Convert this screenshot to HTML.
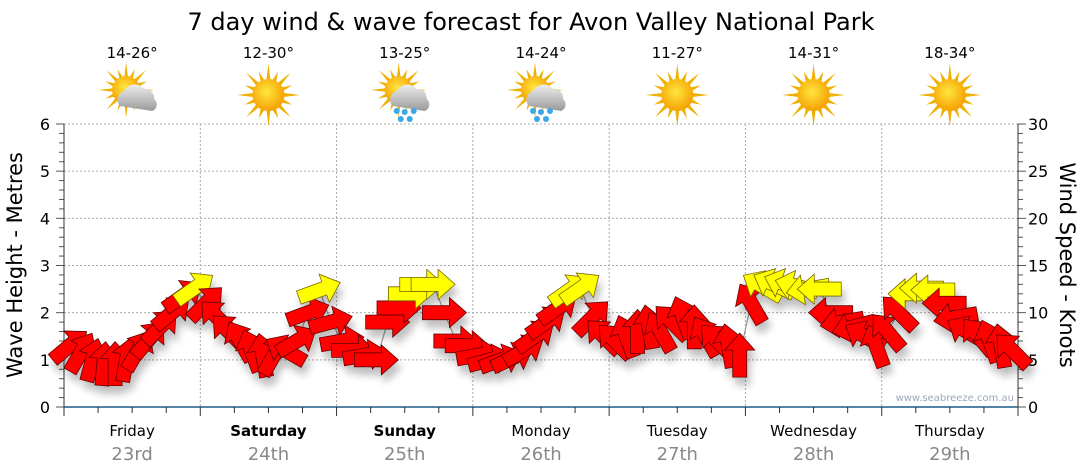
<!DOCTYPE html>
<html><head><meta charset="utf-8">
<style>
body{margin:0;background:#fff;width:1080px;height:475px;overflow:hidden;font-family:"DejaVu Sans","Liberation Sans",sans-serif}
svg{display:block}
</style></head>
<body>
<svg id="chart" width="1080" height="475">
<defs>
<filter id="sh" x="-50%" y="-50%" width="200%" height="200%"><feGaussianBlur in="SourceAlpha" stdDeviation="4"/><feOffset dx="3" dy="8"/><feComponentTransfer><feFuncA type="linear" slope="0.25"/></feComponentTransfer><feMerge><feMergeNode/><feMergeNode in="SourceGraphic"/></feMerge></filter>
<radialGradient id="sun" cx="45%" cy="40%" r="60%"><stop offset="0" stop-color="#ffe640"/><stop offset="1" stop-color="#f5a000"/></radialGradient>
<linearGradient id="cloud" x1="0" y1="0" x2="0" y2="1"><stop offset="0" stop-color="#eee"/><stop offset="1" stop-color="#999"/></linearGradient>
</defs>
<text x="531" y="30" text-anchor="middle" font-size="24" fill="#000">7 day wind &amp; wave forecast for Avon Valley National Park</text>
<g id="grid"></g>
<g id="axes"></g>
<g id="days"></g>
<polyline id="wline" fill="none" stroke="#999" stroke-width="1.2"/>
<g id="arrows" filter="url(#sh)"></g>
<text x="1014" y="401" text-anchor="end" font-size="10" fill="#9aa8bb">www.seabreeze.com.au</text>
<text transform="translate(22,265) rotate(-90)" text-anchor="middle" font-size="21" fill="#000">Wave Height - Metres</text>
<text transform="translate(1060,265) rotate(90)" text-anchor="middle" font-size="21" fill="#000">Wind Speed - Knots</text>
</svg>
<script>
const dayNames=["Friday","Saturday","Sunday","Monday","Tuesday","Wednesday","Thursday"];
const dayDates=["23rd","24th","25th","26th","27th","28th","29th"];
const boldDays=[false,true,true,false,false,false,false];
const temps=["14-26°","12-30°","13-25°","14-24°","11-27°","14-31°","18-34°"];
const icons=["cloudy","sun","rain","rain","sun","sun","sun"];
const waveTicks=[0,1,2,3,4,5,6];
const windTicks=[0,5,10,15,20,25,30];
const windSpeed=[6.5,5.8,5,4.6,4.6,5,6,7.2,8.5,10,11.8,12.6,
 11,9.5,8,7,6,5.5,5.5,6,7,10,12.4,9,
 7,6,5.5,5,9,10.5,12,13,13,10,7,6.5,
 5.5,5,5,5.2,6,7.5,9,10.5,12.4,12.6,9.5,7.5,
 7,7.5,8,8.5,8,9,9.5,8.5,7.5,7,6.5,5.5,
 11,12.8,13,13,12.8,12.5,12.5,10,9,8.5,7.5,6.5,
 8,10,12,12.6,12.4,11,9.5,8,7.5,7,6.5,6];
const windDir=[-40,-60,-75,-85,-90,-80,-60,-50,-45,-40,-35,-35,
 -45,-135,-135,-120,-110,-100,-60,-150,-30,-20,-20,-15,
 -10,0,-10,0,0,0,0,0,0,0,0,0,
 -10,-15,-20,-25,-30,-35,-35,-35,-35,-35,-45,-135,
 -135,-110,-90,-100,-120,-135,-110,-90,-120,-135,-100,-90,
 -120,-150,-155,-160,-165,170,180,180,170,165,-150,-110,
 -130,-135,180,180,180,180,170,-150,-130,-110,-100,-135];
const NS="http://www.w3.org/2000/svg";
const X0=64,X1=1018,Y0=407,YT=124,DW=(X1-X0)/7;
const yW=v=>Y0-(v/6)*(Y0-YT);
const yK=v=>Y0-(v/30)*(Y0-YT);
const xT=i=>X0+(i+0.5)*DW/12;
function mk(tag,attrs,parent){const e=document.createElementNS(NS,tag);for(const k in attrs)e.setAttribute(k,attrs[k]);parent.appendChild(e);return e;}
const grid=document.getElementById('grid'),axes=document.getElementById('axes'),days=document.getElementById('days');
waveTicks.forEach(t=>{if(t>0){const l=mk('line',{x1:X0,x2:X1,y1:yW(t),y2:yW(t),stroke:'#aaa','stroke-dasharray':'2,2'},grid);

}
const tx=mk('text',{x:50,y:yW(t)+6,'text-anchor':'end','font-size':16,fill:'#000'},axes);tx.textContent=t;

});
for(let m=0;m<=30;m++){const y=Y0-m/30*(Y0-YT);mk('line',{x1:X0-(m%5==0?8:5),x2:X0,y1:y,y2:y,stroke:'#555'},axes);}
windTicks.forEach(t=>{const tx=mk('text',{x:1028,y:yK(t)+6,'font-size':16,fill:'#000'},axes);tx.textContent=t;

});
for(let m=0;m<=30;m++){const y=yK(m);mk('line',{x1:X1,x2:X1+(m%5==0?8:5),y1:y,y2:y,stroke:'#555'},axes);}
mk('line',{x1:X0,x2:X0,y1:YT,y2:Y0,stroke:'#333'},axes);
mk('line',{x1:X1,x2:X1,y1:YT,y2:Y0,stroke:'#333'},axes);
mk('line',{x1:X0,x2:X1,y1:Y0,y2:Y0,stroke:'#1a5a8a','stroke-width':1.5},axes);
for(let i=0;i<=28;i++){const x=X0+i*DW/4;mk('line',{x1:x,x2:x,y1:Y0,y2:Y0+(i%4==0?9:6),stroke:'#333'},axes);}
function rays(g,cx,cy,r){for(let a=0;a<16;a++){const ang=a*Math.PI/8,L=(a%2?r*1.5:r*1.85);const p=[[cx+Math.cos(ang)*L,cy+Math.sin(ang)*L],[cx+Math.cos(ang+0.13)*r*0.9,cy+Math.sin(ang+0.13)*r*0.9],[cx+Math.cos(ang-0.13)*r*0.9,cy+Math.sin(ang-0.13)*r*0.9]];mk('polygon',{points:p.map(q=>q.join(',')).join(' '),fill:'#f0b000'},g);}}
dayNames.forEach((n,d)=>{const cx=X0+(d+0.5)*DW;
if(d>0){const l=mk('line',{x1:X0+d*DW,x2:X0+d*DW,y1:YT,y2:Y0,stroke:'#aaa','stroke-dasharray':'2,2'},grid);

}
const t1=mk('text',{x:cx,y:436,'text-anchor':'middle','font-size':15,fill:'#000','font-weight':boldDays[d]?'bold':'normal'},days);t1.textContent=n;


const t2=mk('text',{x:cx,y:460,'text-anchor':'middle','font-size':18,fill:'#888'},days);t2.textContent=dayDates[d];


const t3=mk('text',{x:cx,y:58,'text-anchor':'middle','font-size':15,fill:'#000'},days);t3.textContent=temps[d];


const g=mk('g',{},days);


const ic=icons[d];
if(ic==='sun'){rays(g,cx,95,17);mk('circle',{cx:cx,cy:95,r:16,fill:'url(#sun)'},g);}
else{const sx=cx-6,sy=90;rays(g,sx,sy,15);mk('circle',{cx:sx,cy:sy,r:14,fill:'url(#sun)'},g);
mk('path',{d:`M${cx-12},${106} a9,9 0 0 1 4,-15 a12,12 0 0 1 20,-2 a9,9 0 0 1 10,10 a7,7 0 0 1 -2,12 z`,fill:'url(#cloud)'},g);
if(ic==='rain'){[[-8,111],[0,112],[9,111],[-4,119],[5,119]].forEach(p=>mk('circle',{cx:cx+p[0],cy:p[1],r:3,fill:'#3aa8e8'},g));}}
});
const ar=document.getElementById('arrows');
const pts=[];
windSpeed.forEach((v,i)=>{const x=xT(i),y=yK(v);pts.push(x+','+y);
const col=v>=12?'#ffff00':'#ff0000';
const p=mk('polygon',{points:'-22,-7 5,-7 5,-15 22,0 5,15 5,7 -22,7',fill:col,stroke:v>=12?'#776600':'#600',transform:`translate(${x},${y}) rotate(${windDir[i]})`,'stroke-width':0.8},ar);

});
document.getElementById('wline').setAttribute('points',pts.join(' '));
</script>
</body></html>
